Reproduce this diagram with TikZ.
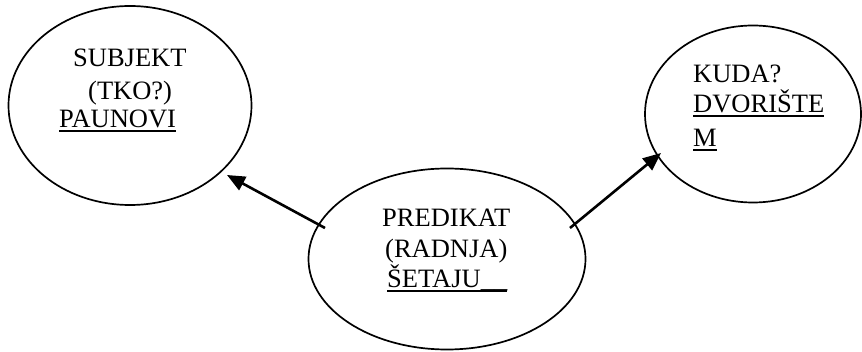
\documentclass[tikz,border=0pt]{standalone}
\usepackage{fontspec}
\setmainfont{Liberation Serif}
\usetikzlibrary{shapes.geometric,arrows.meta}
\newcommand\ulx[1]{\setbox0\hbox{#1}\rlap{\rule[-4pt]{\wd0}{2pt}}\box0}
\begin{document}
\begin{tikzpicture}[x=1pt,y=-1pt,
  oval/.style={draw,ellipse,line width=1.7pt,inner sep=0pt,outer sep=0pt},
  txt/.style={anchor=base west,inner sep=0pt,font=\fontsize{26.5}{30}\selectfont},
  arr/.style={line width=2.6pt,-{Triangle[length=18pt,width=15pt]}}]
\useasboundingbox (0,0) rectangle (862,352);
\node[oval,minimum width=243pt,minimum height=199pt] (subj) at (130,105.5) {};
\node[oval,minimum width=277pt,minimum height=181pt] (pred) at (447,259) {};
\node[oval,minimum width=216pt,minimum height=177pt] (kuda) at (753,114) {};
\node[txt] (s1) at (73,67) {SUBJEKT};
\node[txt] (s2) at (88,100) {(TKO?)};
\node[txt] (s3) at (59,128) {\ulx{PAUNOVI}};
\node[txt] (p1) at (382,227) {PREDIKAT};
\node[txt] (p2) at (385,258) {(RADNJA)};
\node[txt] (p3) at (387,288) {\ulx{ŠETAJU\_\_}};
\node[txt] (k1) at (693,83) {KUDA?};
\node[txt] (k2) at (693,113) {\ulx{DVORIŠTE}};
\node[txt] (k3) at (693,147) {\ulx{M}};
\coordinate (a1s) at (325,228);
\coordinate (a1e) at (227,175);
\coordinate (a2s) at (570,228);
\coordinate (a2e) at (661,153);
\draw[arr] (a1s) -- (a1e);
\draw[arr] (a2s) -- (a2e);
\end{tikzpicture}
\end{document}
